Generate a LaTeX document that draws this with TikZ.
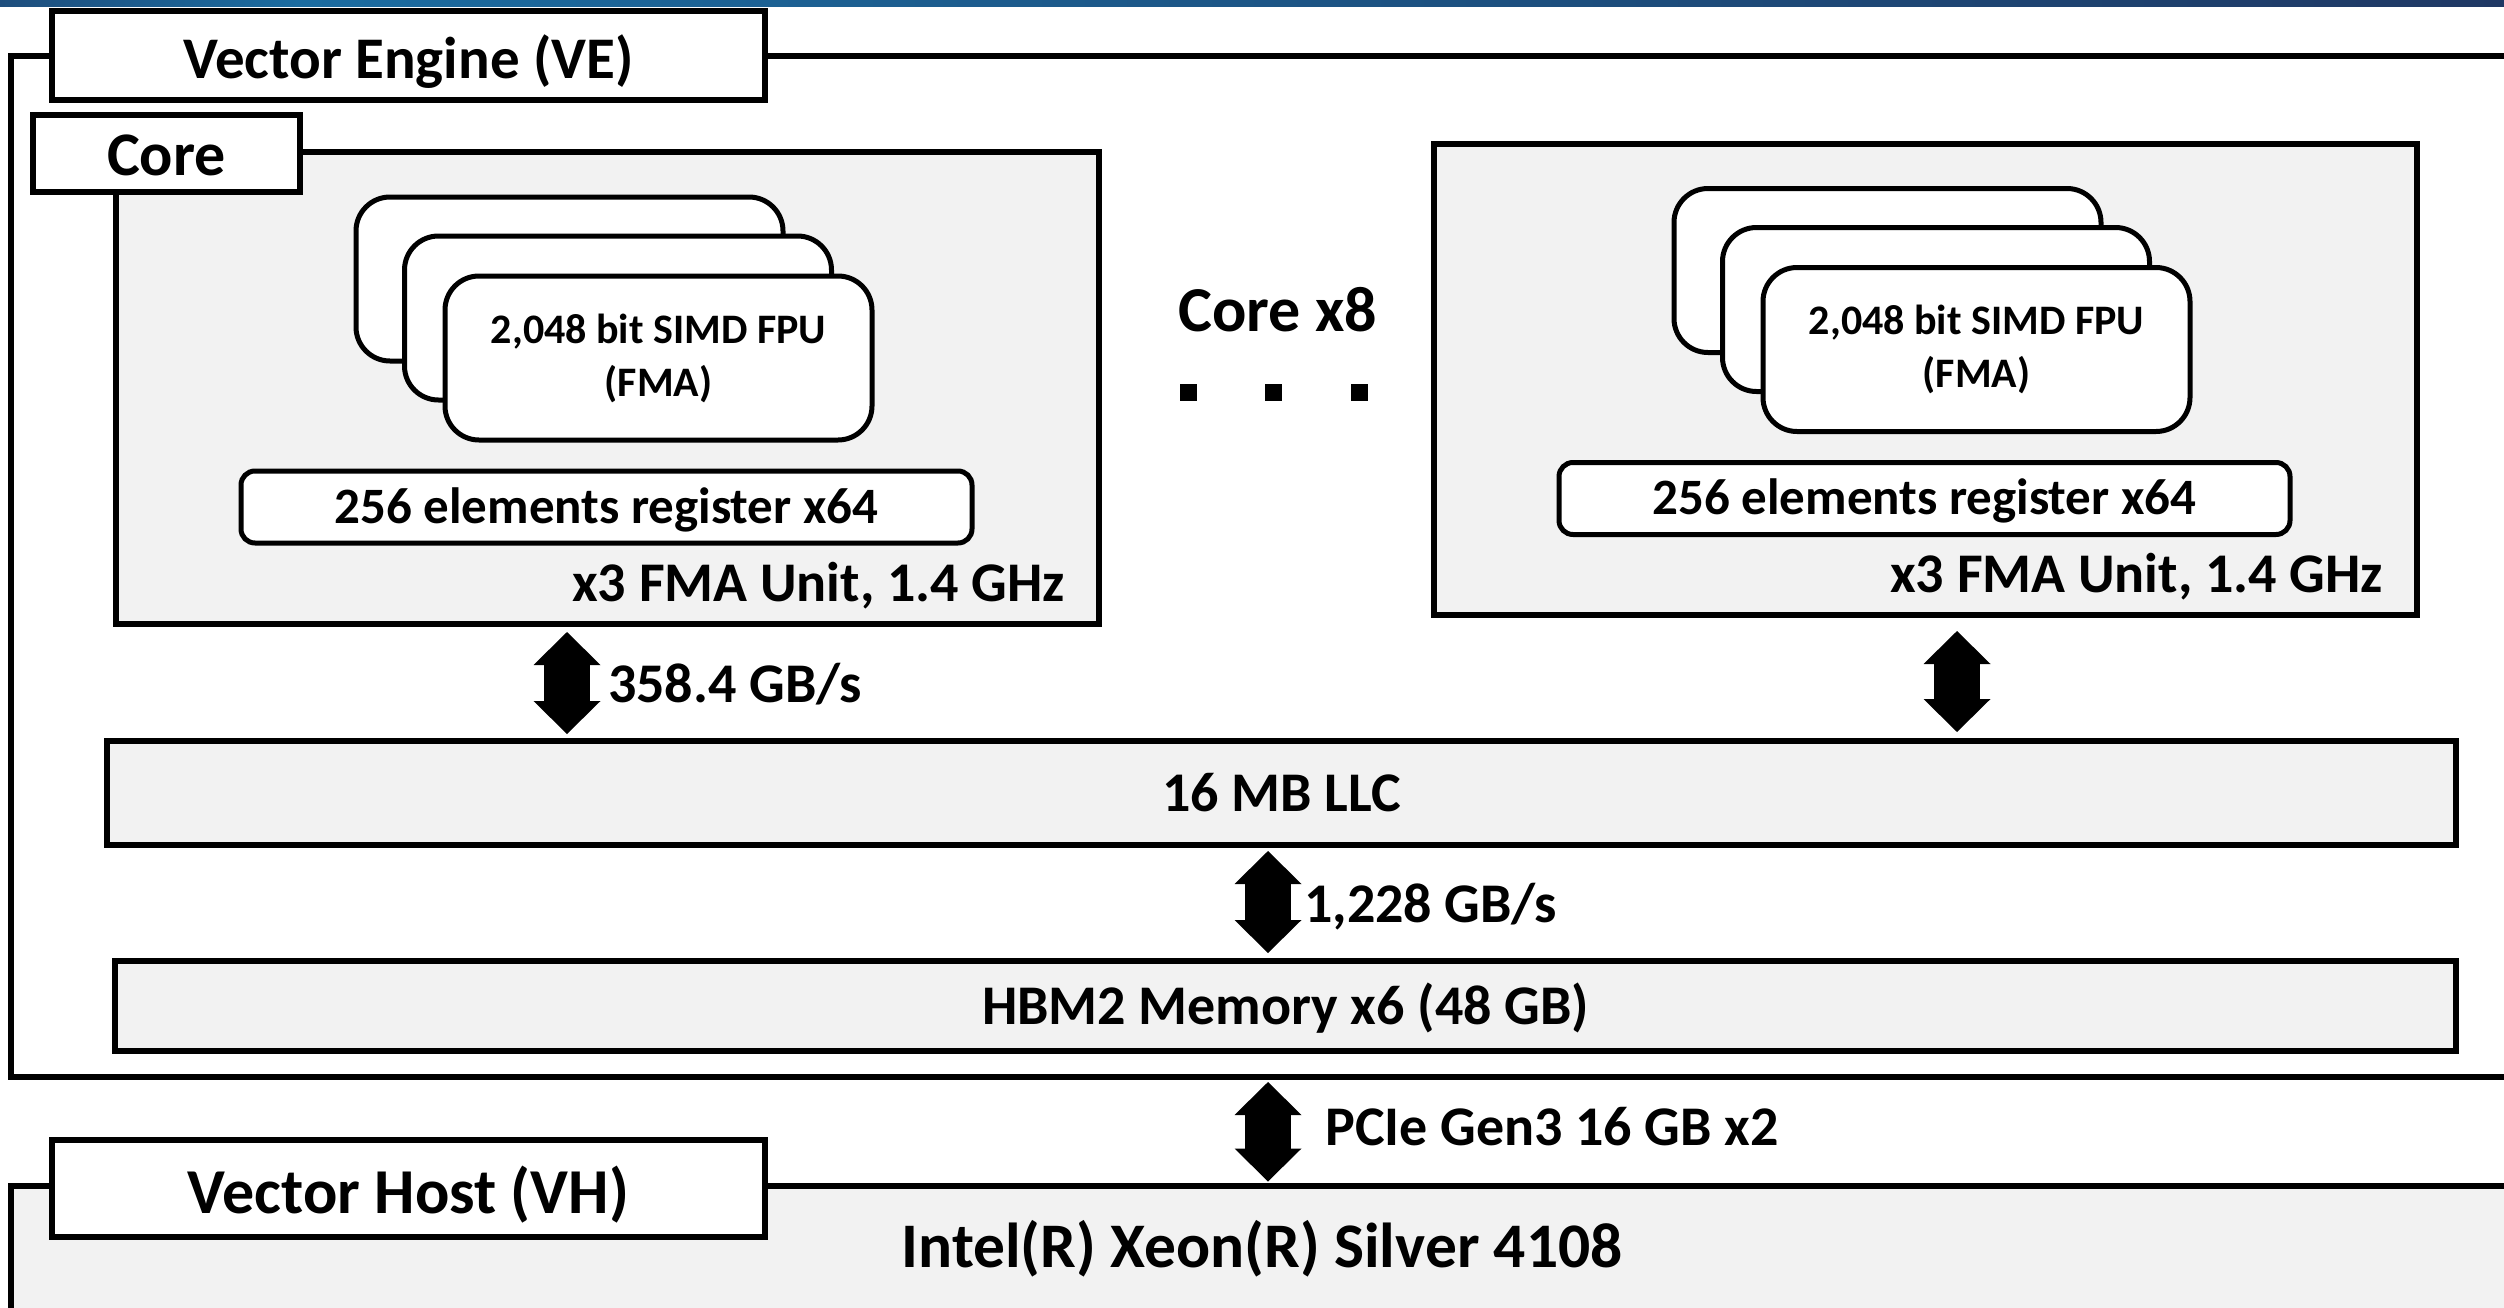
\documentclass[tikz,border=0pt]{standalone}
\usepackage{fontspec}
\setmainfont{Carlito}
\usetikzlibrary{arrows.meta}
\definecolor{boxgray}{RGB}{242,242,242}
\definecolor{barleft}{RGB}{30,78,125}
\definecolor{barblue}{RGB}{27,108,160}
\definecolor{barnavy}{RGB}{31,56,100}
\newcommand\fsz[2]{\fontsize{#1}{#2}\selectfont}
\begin{document}
\begin{tikzpicture}[x=1pt,y=-1pt,
  frame/.style={draw, line width=6pt, inner sep=0pt, anchor=center},
  gbox/.style={frame, fill=boxgray},
  wbox/.style={frame, fill=white},
  card/.style={draw, line width=5pt, fill=white, rounded corners=34pt,
    minimum width=427pt, minimum height=164pt, inner sep=0pt},
  regbox/.style={draw, line width=5pt, fill=white, rounded corners=14pt,
    minimum width=731pt, minimum height=72pt, inner sep=0pt},
  bigarrow/.style={line width=46pt,
    {Triangle[length=33pt,width=67pt,line width=0pt]}-{Triangle[length=33pt,width=67pt,line width=0pt]}},
  txt/.style={font=\bfseries\fsz{56}{67}, inner sep=0pt},
  dotsq/.style={fill=black, minimum size=17pt, inner sep=0pt}
]
\path[use as bounding box, clip] (0,0) rectangle (2504,1307);
\fill[white] (0,0) rectangle (2504,1307);
\shade[left color=barleft, right color=barblue] (0,0) rectangle (300,6);
\shade[left color=barblue, right color=barnavy] (300,0) rectangle (2504,6);

% outer frames
\node[wbox, minimum width=2529pt, minimum height=1021pt] (ve) at (1275.5,566.5) {};
\node[gbox, minimum width=2529pt, minimum height=300pt] (vh) at (1275.5,1336) {};

% cores
\node[gbox, minimum width=983pt, minimum height=472pt] (core1) at (607.5,388) {};
\node[gbox, minimum width=983pt, minimum height=471pt] (core2) at (1925.5,379.5) {};

\foreach \c in {1,2}{
  \node[card] (fpuA\c) at ([shift={(-38,-109)}]core\c.center) {};
  \node[card] (fpuB\c) at ([shift={(10.5,-70)}]core\c.center) {};
  \node[card, font=\bfseries\fsz{42}{53}, align=center] (fpuC\c) at ([shift={(51,-30)}]core\c.center)
    {2,048 bit SIMD FPU\\(FMA)};
  \node[regbox, font=\bfseries\fsz{51}{61}, text height=32pt, text depth=0pt] (reg\c)
    at ([shift={(-1,119)}]core\c.center) {256 elements register x64};
  \node[txt, anchor=base east] (fma\c) at ([xshift=-37pt, yshift=26pt]core\c.south east)
    {x3 FMA Unit, 1.4 GHz};
}

% labels
\node[wbox, minimum width=713pt, minimum height=89pt, font=\bfseries\fsz{59}{71},
  text height=45pt, text depth=0pt] (velabel) at (408.5,55.5) {Vector Engine (VE)};
\node[wbox, minimum width=267pt, minimum height=77pt, font=\bfseries\fsz{62}{74},
  text height=43pt, text depth=0pt] (corelabel) at (166.5,153.5) {Core};
\node[wbox, minimum width=713pt, minimum height=97pt, font=\bfseries\fsz{64}{76},
  text height=49pt, text depth=0pt] (vhlabel) at (408.5,1188.5) {Vector Host (VH)};

% core x8
\node[anchor=base, font=\bfseries\fsz{64}{76}, inner sep=0pt] (corex8) at (1278,331) {Core x8};
\node[dotsq] (dot1) at (1188,392) {};
\node[dotsq] (dot2) at (1273,392) {};
\node[dotsq] (dot3) at (1359,392) {};

% memory
\node[gbox, txt, minimum width=2349pt, minimum height=104pt, text height=37pt, text depth=0pt]
  (llc) at (1281.5,793) {16 MB LLC};
\node[gbox, txt, minimum width=2341pt, minimum height=90pt, text height=36pt, text depth=0pt]
  (hbm) at (1285.5,1006) {HBM2 Memory x6 (48 GB)};

% host text
\node[anchor=base, font=\bfseries\fsz{63.5}{76}, inner sep=0pt] (xeon) at (1262,1267)
  {Intel(R) Xeon(R) Silver 4108};

% arrows
\coordinate (ax1) at (567,0);
\coordinate (ax2) at (1957,0);
\coordinate (ax3) at (1268,0);
\draw[bigarrow, shorten <=5pt, shorten >=4pt] (core1.south -| ax1) -- (llc.north -| ax1);
\draw[bigarrow, shorten <=13pt, shorten >=6pt] (core2.south -| ax2) -- (llc.north -| ax2);
\draw[bigarrow, shorten <=3pt, shorten >=5pt] (llc.south -| ax3) -- (hbm.north -| ax3);
\draw[bigarrow, shorten <=2pt, shorten >=1.5pt] (ve.south -| ax3) -- (vh.north -| ax3);

\node[txt, anchor=base west] (bw1) at (608,702) {358.4 GB/s};
\node[txt, anchor=base west] (bw2) at (1304,922) {1,228 GB/s};
\node[txt, anchor=base west] (pcie) at (1325,1145) {PCIe Gen3 16 GB x2};
\end{tikzpicture}
\end{document}
